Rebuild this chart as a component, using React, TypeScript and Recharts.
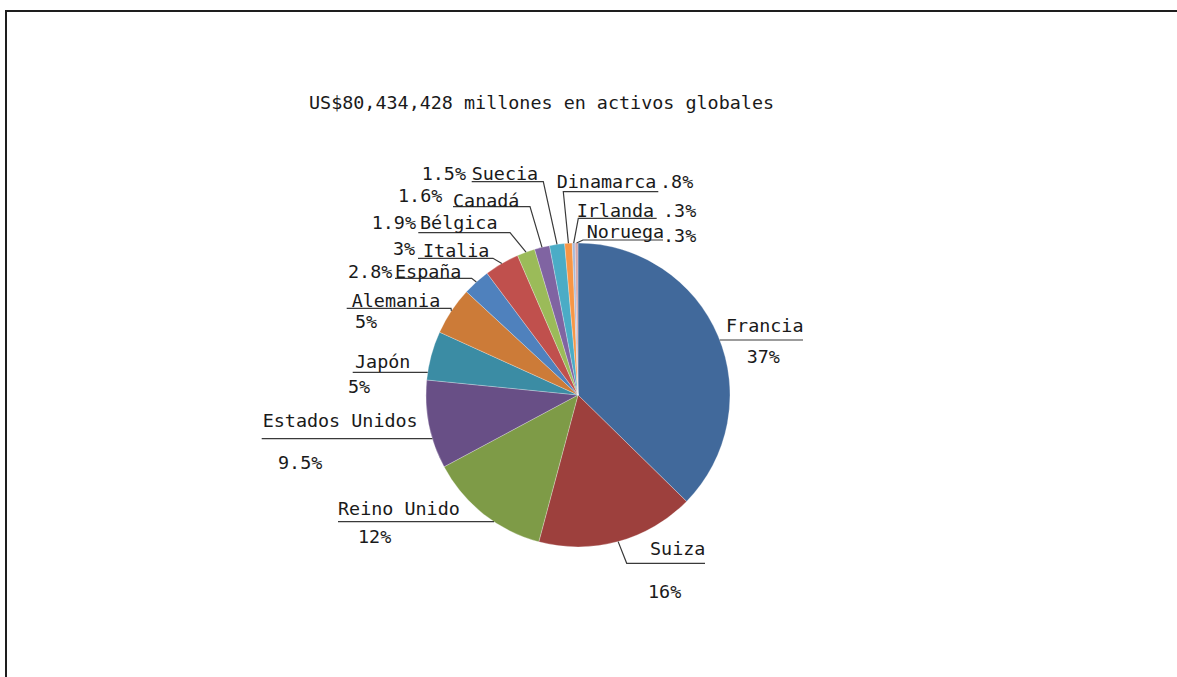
import { Cell, Pie, PieChart } from "recharts";

// country names, in slice order (clockwise from 12 o'clock)
const countries = [
    "Francia", "Suiza", "Reino Unido", "Estados Unidos", "Japón", "Alemania", "España",
    "Italia", "Bélgica", "Canadá", "Suecia", "Dinamarca", "Irlanda", "Noruega",
];
// share of global assets
const shares = [37.3, 16.8, 13.0, 9.4, 5.2, 5.1, 2.9, 3.7, 1.9, 1.6, 1.6, 0.8, 0.3, 0.3];
// the percentage texts as printed on the chart
const shareLabels = ["37%", "16%", "12%", "9.5%", "5%", "5%", "2.8%", "3%", "1.9%", "1.6%", "1.5%", ".8%", ".3%", ".3%"];

const title = "US$80,434,428 millones en activos globales";

const colors = [
    "#41699B", "#9D403D", "#7E9B47", "#684F86", "#3B8CA4", "#CC7B38", "#4F81BD",
    "#C0504D", "#9BBB59", "#8064A2", "#4BACC6", "#F79646", "#A7B9D9", "#D7A6A5",
];

type Mode = "edgeL" | "edgeR" | "midL" | "midR";
type LabelPos = {
    mode: Mode;
    lineY: number; x0: number; x1: number;
    nameX: number; nameY: number;
    valX: number; valY: number;
};

// label placement, offsets from the pie centre
const labelLayout: LabelPos[] = [
    { mode: "edgeR", lineY: -55, x0: 0, x1: 225, nameX: 148, nameY: -70, valX: 168.7, valY: -39 },
    { mode: "midL", lineY: 168.3, x0: 48.7, x1: 127, nameX: 72, nameY: 153, valX: 70, valY: 196 },
    { mode: "edgeL", lineY: 126.7, x0: -240, x1: 0, nameX: -240, nameY: 113.3, valX: -220, valY: 141.7 },
    { mode: "edgeL", lineY: 43.7, x0: -316.3, x1: 0, nameX: -315.3, nameY: 25, valX: -300, valY: 67.7 },
    { mode: "edgeL", lineY: -22.7, x0: -225.3, x1: 0, nameX: -223, nameY: -33.3, valX: -230, valY: -8.3 },
    { mode: "midR", lineY: -86.7, x0: -231.3, x1: -127, nameX: -226.3, nameY: -95, valX: -223, valY: -73.3 },
    { mode: "midR", lineY: -116.7, x0: -183, x1: -106.3, nameX: -183, nameY: -123.3, valX: -230, valY: -123.3 },
    { mode: "midR", lineY: -136.7, x0: -160, x1: -85, nameX: -155, nameY: -145, valX: -185, valY: -146.7 },
    { mode: "midR", lineY: -162.3, x0: -159.7, x1: -68, nameX: -158, nameY: -172.3, valX: -206.3, valY: -172.3 },
    { mode: "midR", lineY: -188.3, x0: -125, x1: -48, nameX: -125, nameY: -195, valX: -180, valY: -200 },
    { mode: "midR", lineY: -213.3, x0: -106.3, x1: -34.7, nameX: -106.3, nameY: -221.7, valX: -156.3, valY: -221.7 },
    { mode: "midL", lineY: -203.3, x0: -14.7, x1: 80.3, nameX: -21.3, nameY: -213.3, valX: 82, valY: -213.3 },
    { mode: "midL", lineY: -176.7, x0: 0.3, x1: 78.7, nameX: -1.3, nameY: -185, valX: 85, valY: -185 },
    { mode: "midL", lineY: -155, x0: 5, x1: 85, nameX: 8.7, nameY: -163.3, valX: 85, valY: -160 },
];

const data = countries.map((name, i) => ({ name, value: shares[i] }));

const FONT = "'DejaVu Sans Mono', 'Liberation Mono', monospace";
const FONT_SIZE = 18.4;
const BASE = 6.5; // visual centre -> baseline

const renderLabel = (props: any) => {
    const { cx, cy, outerRadius, midAngle, index } = props;
    const L = labelLayout[index];
    const RAD = Math.PI / 180;
    const ex = cx + outerRadius * Math.cos(-midAngle * RAD);
    const ey = cy + outerRadius * Math.sin(-midAngle * RAD);
    const uy = cy + L.lineY;
    const half = Math.sqrt(Math.max(0, outerRadius * outerRadius - L.lineY * L.lineY));
    let points = "";
    if (L.mode === "edgeL") {
        points = `${cx + L.x0},${uy} ${cx - half},${uy}`;
    } else if (L.mode === "edgeR") {
        points = `${cx + half},${uy} ${cx + L.x1},${uy}`;
    } else if (L.mode === "midR") {
        points = `${cx + L.x0},${uy} ${cx + L.x1},${uy} ${ex},${ey}`;
    } else {
        points = `${ex},${ey} ${cx + L.x0},${uy} ${cx + L.x1},${uy}`;
    }
    return (
        <g key={`lbl-${index}`}>
            <polyline points={points} fill="none" stroke="#3a3a3a" strokeWidth={1.2} />
            <text x={cx + L.nameX} y={cy + L.nameY + BASE} fill="#1a1a1a"
                fontFamily={FONT} fontSize={FONT_SIZE} textAnchor="start">
                {countries[index]}
            </text>
            <text x={cx + L.valX} y={cy + L.valY + BASE} fill="#1a1a1a"
                fontFamily={FONT} fontSize={FONT_SIZE} textAnchor="start">
                {shareLabels[index]}
            </text>
        </g>
    );
};

const App = () => {
    return (
        <div style={{ position: "absolute", left: 0, top: 0, width: 1177, height: 677, overflow: "hidden", background: "#fff" }}>
            <div style={{
                position: "absolute", left: 5, top: 10, width: 1300, height: 800,
                borderLeft: "2px solid #1e1e1e", borderTop: "2px solid #1e1e1e",
            }} />
            <div style={{
                position: "absolute", left: 309, top: 92, fontFamily: FONT, fontSize: FONT_SIZE,
                lineHeight: "22px", color: "#1a1a1a", whiteSpace: "pre",
            }}>
                {title}
            </div>
            <div style={{ position: "absolute", left: 0, top: 0 }}>
                <PieChart width={1177} height={677} margin={{ top: 0, right: 0, bottom: 0, left: 0 }}>
                    <Pie
                        data={data}
                        dataKey="value"
                        nameKey="name"
                        cx={578}
                        cy={395}
                        outerRadius={152}
                        startAngle={90}
                        endAngle={-270}
                        label={renderLabel}
                        labelLine={false}
                        isAnimationActive={false}
                    >
                        {data.map((d, i) => (
                            <Cell key={d.name} fill={colors[i]} stroke="rgba(255,255,255,0.45)" strokeWidth={0.6} />
                        ))}
                    </Pie>
                </PieChart>
            </div>
        </div>
    );
};

export default App;
